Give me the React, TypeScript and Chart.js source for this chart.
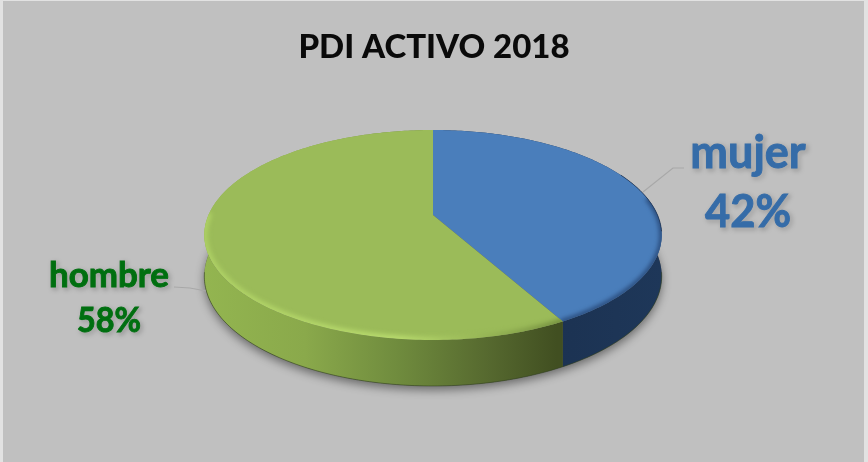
import React, { useEffect, useRef } from "react";
import { Chart, registerables } from "chart.js";

Chart.register(...registerables);

const titleText = "PDI ACTIVO 2018";
const categories = ["mujer", "hombre"];
const shares = [42, 58];

const topColors = ["#4a7ebb", "#9bbb59"];
const labelColors = ["#356ca8", "#006f10"];

const W = 868;
const H = 462;

// Perspective of the tilted disc
const APEX_X = 433;
const APEX_Y = 215;
const SPREAD_X = 224.5;
const SPREAD_Y = 60.2;
const PERSPECTIVE = -0.1905;
const DEPTH = 40;
const DEPTH_FRONT = 6;

const project = (theta: number, depth: boolean) => {
  const u = Math.sin(theta);
  const v = -Math.cos(theta);
  const d = 1 + PERSPECTIVE * v;
  const x = APEX_X + (SPREAD_X * u) / d;
  const y = (APEX_Y + SPREAD_Y * v) / d;
  return { x, y: depth ? y + DEPTH + DEPTH_FRONT * v : y };
};

const tracePts = (ctx: CanvasRenderingContext2D, a: number, b: number, depth: boolean, first: boolean) => {
  const n = Math.max(8, Math.ceil(Math.abs(b - a) * 60));
  for (let i = 0; i <= n; i++) {
    const p = project(a + ((b - a) * i) / n, depth);
    if (i === 0 && first) ctx.moveTo(p.x, p.y);
    else ctx.lineTo(p.x, p.y);
  }
};

const wallFill = (ctx: CanvasRenderingContext2D, index: number) => {
  const g = ctx.createLinearGradient(204, 0, 662, 0);
  if (index === 0) {
    g.addColorStop(0.7, "#1b3150");
    g.addColorStop(1, "#1e3759");
  } else {
    g.addColorStop(0, "#93b550");
    g.addColorStop(0.22, "#8aa94b");
    g.addColorStop(0.42, "#708c3e");
    g.addColorStop(0.62, "#56692f");
    g.addColorStop(0.77, "#414f21");
  }
  return g;
};

const pie3d = {
  id: "pie3d",
  beforeDraw(chart: any) {
    const ctx = chart.ctx;
    ctx.save();
    ctx.fillStyle = "#e2e2e2";
    ctx.fillRect(0, 0, W, H);
    ctx.fillStyle = "#c0c0c0";
    ctx.fillRect(3, 1, W - 7, H - 1);
    ctx.restore();
  },
  beforeDatasetsDraw(chart: any) {
    const ctx: CanvasRenderingContext2D = chart.ctx;
    const arcs: any[] = chart.getDatasetMeta(0).data;
    const toTheta = (angle: number) => angle + Math.PI / 2;
    const RIM_FROM = Math.PI * 0.45;
    const RIM_TO = Math.PI * 1.5;

    // soft shadow under the disc
    ctx.save();
    ctx.shadowColor = "rgba(0,0,0,0.45)";
    ctx.shadowBlur = 10;
    ctx.shadowOffsetY = 4;
    ctx.fillStyle = "#555";
    ctx.beginPath();
    tracePts(ctx, 0, Math.PI * 2, true, true);
    ctx.closePath();
    ctx.fill();
    ctx.restore();

    // side walls
    arcs.forEach((arc, i) => {
      const a = toTheta(arc.startAngle);
      const b = toTheta(arc.endAngle);
      ctx.save();
      ctx.beginPath();
      tracePts(ctx, a, b, false, true);
      tracePts(ctx, b, a, true, false);
      ctx.closePath();
      ctx.fillStyle = wallFill(ctx, i);
      ctx.fill();
      ctx.restore();
    });

    // top faces
    arcs.forEach((arc, i) => {
      const a = toTheta(arc.startAngle);
      const b = toTheta(arc.endAngle);
      ctx.save();
      ctx.beginPath();
      ctx.moveTo(APEX_X, APEX_Y);
      tracePts(ctx, a, b, false, false);
      ctx.closePath();
      ctx.fillStyle = arc.options.backgroundColor;
      ctx.fill();
      ctx.clip();

      // bevel along the front of the rim, kept inside the face
      const from = Math.max(a, RIM_FROM);
      const to = Math.min(b, RIM_TO);
      ctx.beginPath();
      tracePts(ctx, from, to, false, true);
      ctx.lineCap = "round";
      if (i === 0) {
        ctx.lineWidth = 5;
        ctx.filter = "blur(2px)";
        ctx.strokeStyle = "#2a4c7c";
      } else {
        ctx.lineWidth = 6;
        ctx.filter = "blur(2.5px)";
        const g = ctx.createLinearGradient(204, 0, 560, 0);
        g.addColorStop(0, "#b0d366");
        g.addColorStop(0.55, "#bcdf70");
        g.addColorStop(0.85, "#8ba84e");
        g.addColorStop(1, "#6f8a3c");
        ctx.strokeStyle = g;
      }
      ctx.stroke();
      ctx.restore();
    });

    // dark hairline on the outer silhouette
    ctx.save();
    ctx.beginPath();
    tracePts(ctx, Math.PI * 0.55, Math.PI * 1.45, true, true);
    ctx.strokeStyle = "rgba(50,65,30,0.55)";
    ctx.lineWidth = 1;
    ctx.stroke();
    ctx.beginPath();
    tracePts(ctx, Math.PI * 0.36, Math.PI * 0.55, false, true);
    ctx.strokeStyle = "rgba(20,35,60,0.6)";
    ctx.stroke();
    ctx.restore();

    return false;
  },
  afterDraw(chart: any) {
    const ctx: CanvasRenderingContext2D = chart.ctx;
    const leaders = [
      [[643, 192], [673, 168], [684, 168]],
      [[174, 287], [190, 288], [206, 291]],
    ];
    const place = [
      { x: 748, y1: 168, y2: 227, size: 45, max1: 118, max2: 86 },
      { x: 109, y1: 287, y2: 332, size: 35, max1: 120, max2: 64 },
    ];
    const total = shares.reduce((s, v) => s + v, 0);
    ctx.save();
    leaders.forEach((pts) => {
      ctx.beginPath();
      pts.forEach(([x, y], k) => (k ? ctx.lineTo(x, y) : ctx.moveTo(x, y)));
      ctx.strokeStyle = "#a8a8a8";
      ctx.lineWidth = 1.2;
      ctx.stroke();
    });
    categories.forEach((name, i) => {
      const p = place[i];
      ctx.font = `bold ${p.size}px Lato`;
      ctx.textAlign = "center";
      ctx.textBaseline = "alphabetic";
      ctx.fillStyle = labelColors[i];
      ctx.strokeStyle = labelColors[i];
      ctx.lineWidth = 0.9;
      ctx.shadowColor = "rgba(0,0,0,0.5)";
      ctx.shadowBlur = 4;
      ctx.shadowOffsetX = 2;
      ctx.shadowOffsetY = 2;
      const pct = `${Math.round((shares[i] / total) * 100)}%`;
      ctx.strokeText(name, p.x, p.y1, p.max1);
      ctx.strokeText(pct, p.x, p.y2, p.max2);
      ctx.shadowColor = "transparent";
      ctx.fillText(name, p.x, p.y1, p.max1);
      ctx.fillText(pct, p.x, p.y2, p.max2);
    });
    ctx.restore();
  },
};

export default function App() {
  const ref = useRef<HTMLCanvasElement>(null);
  useEffect(() => {
    document.body.style.margin = "0";
    const chart = new Chart(ref.current as HTMLCanvasElement, {
      type: "pie",
      data: {
        labels: categories,
        datasets: [{ data: shares, backgroundColor: topColors, borderWidth: 0 }],
      },
      options: {
        animation: false,
        responsive: false,
        devicePixelRatio: 1,
        layout: { padding: 0 },
        plugins: {
          legend: { display: false },
          tooltip: { enabled: false },
          title: {
            display: true,
            text: titleText,
            color: "#0a0a0a",
            font: { family: "Lato", size: 33, weight: "900" },
            padding: { top: 28, bottom: 10 },
          },
        },
      },
      plugins: [pie3d],
    } as any);
    return () => chart.destroy();
  }, []);
  return <canvas ref={ref} width={W} height={H} style={{ display: "block" }} />;
}
